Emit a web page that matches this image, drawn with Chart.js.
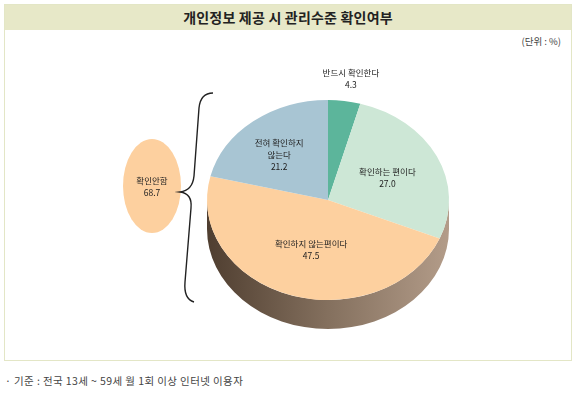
<!DOCTYPE html>
<html>
<head>
<meta charset="utf-8">
<script src="https://cdn.jsdelivr.net/npm/chart.js@4"></script>
<style>
  html, body { margin: 0; padding: 0; background: #ffffff; }
  body { width: 580px; height: 399px; position: relative; overflow: hidden;
         font-family: "Noto Sans CJK KR", "Noto Sans", sans-serif; }
  #frame { position: absolute; left: 4px; top: 4px; width: 568px; height: 357px;
           border: 1px solid #e3e6c6; box-sizing: border-box; background: #fff; }
  #band { position: absolute; left: 0; top: 0; right: 0; height: 25px; background: #e7e8c8;
          text-align: center; font-size: 14px; font-weight: bold; color: #222; line-height: 25px; letter-spacing: 0.2px; }
  #unit { position: absolute; right: 19px; top: 34px; font-size: 9.5px; color: #444; }
  #foot { position: absolute; left: 5px; top: 373px; font-size: 10.5px; color: #444; letter-spacing: 0.4px; }
  canvas { position: absolute; left: 0; top: 0; }
</style>
</head>
<body>
<div id="frame"><div id="band">개인정보 제공 시 관리수준 확인여부</div></div>
<div id="unit">(단위 : %)</div>
<div id="foot">· 기준 : 전국 13세 ~ 59세 월 1회 이상 인터넷 이용자</div>
<canvas id="c" width="580" height="399"></canvas>
<script>
const categories = ["반드시 확인한다", "확인하는 편이다", "확인하지 않는편이다", "전혀 확인하지 않는다"];
const labelLines = [["반드시 확인한다"], ["확인하는 편이다"], ["확인하지 않는편이다"], ["전혀 확인하지", "않는다"]];
const values = [4.3, 27.0, 47.5, 21.2];
const colors = ["#5cb59b", "#cde7d6", "#fdd09f", "#a8c5d3"];
const groupLabel = "확인안함";
const groupValue = 68.7;

const TILT = 100 / 121;
const DEPTH = 29;

const pie3d = {
  id: "pie3d",
  beforeDatasetsDraw(chart) {
    const ctx = chart.ctx;
    const arc = chart.getDatasetMeta(0).data[0];
    const cx = arc.x, cy = arc.y, r = arc.outerRadius, ry = r * TILT;
    ctx.save();
    const g = ctx.createLinearGradient(cx - r, 0, cx + r, 0);
    g.addColorStop(0, "#4f3e30");
    g.addColorStop(0.5, "#84705e");
    g.addColorStop(1, "#b39c89");
    ctx.beginPath();
    ctx.moveTo(cx + r, cy);
    ctx.ellipse(cx, cy + DEPTH, r, ry, 0, 0, Math.PI, false);
    ctx.lineTo(cx - r, cy);
    ctx.ellipse(cx, cy, r, ry, 0, Math.PI, 0, true);
    ctx.closePath();
    ctx.fillStyle = g;
    ctx.fill();
    ctx.restore();
    ctx.save();
    ctx.translate(cx, cy);
    ctx.scale(1, TILT);
    ctx.translate(-cx, -cy);
  },
  afterDatasetsDraw(chart) {
    chart.ctx.restore();
  },
  afterDraw(chart) {
    const ctx = chart.ctx;
    const meta = chart.getDatasetMeta(0);
    const factors = [1.22, 0.5, 0.5, 0.6];
    const dx = [3, 5, 2, -4];
    const dy = [0, 0, 2, 2];
    ctx.save();
    ctx.font = "8.5px 'Noto Sans CJK KR'";
    ctx.fillStyle = "#222";
    ctx.textAlign = "center";
    ctx.textBaseline = "middle";
    meta.data.forEach((a, i) => {
      const mid = (a.startAngle + a.endAngle) / 2;
      const f = factors[i];
      const x = a.x + Math.cos(mid) * a.outerRadius * f + dx[i];
      const y = a.y + Math.sin(mid) * a.outerRadius * TILT * f + dy[i];
      const lines = labelLines[i].concat([values[i].toFixed(1)]);
      const lh = 12;
      const y0 = y - (lines.length - 1) * lh / 2;
      lines.forEach((t, k) => ctx.fillText(t, x, y0 + k * lh));
    });
    const gx = 152, gy = 186;
    ctx.beginPath();
    ctx.ellipse(gx, gy, 29, 47, 0, 0, Math.PI * 2);
    ctx.fillStyle = colors[2];
    ctx.fill();
    ctx.fillStyle = "#222";
    ctx.fillText(groupLabel, gx, gy - 5);
    ctx.fillText(groupValue.toFixed(1), gx, gy + 7);
    ctx.beginPath();
    ctx.strokeStyle = "#222";
    ctx.lineWidth = 1.4;
    ctx.moveTo(213, 93);
    ctx.bezierCurveTo(204, 93, 200, 98, 199, 108);
    ctx.lineTo(194, 176);
    ctx.bezierCurveTo(193, 186, 188, 191, 180, 192);
    ctx.bezierCurveTo(188, 193, 192, 198, 191, 208);
    ctx.lineTo(185, 282);
    ctx.bezierCurveTo(184, 294, 187, 300, 194, 302);
    ctx.stroke();
    ctx.restore();
  }
};

new Chart(document.getElementById("c"), {
  type: "pie",
  data: {
    labels: categories,
    datasets: [{ data: values, backgroundColor: colors, borderWidth: 0, hoverOffset: 0 }]
  },
  options: {
    responsive: false,
    animation: false,
    events: [],
    layout: { padding: { left: 207, right: 131, top: 79, bottom: 78 } },
    plugins: { legend: { display: false }, tooltip: { enabled: false }, title: { display: false } }
  },
  plugins: [pie3d]
});
</script>
</body>
</html>
